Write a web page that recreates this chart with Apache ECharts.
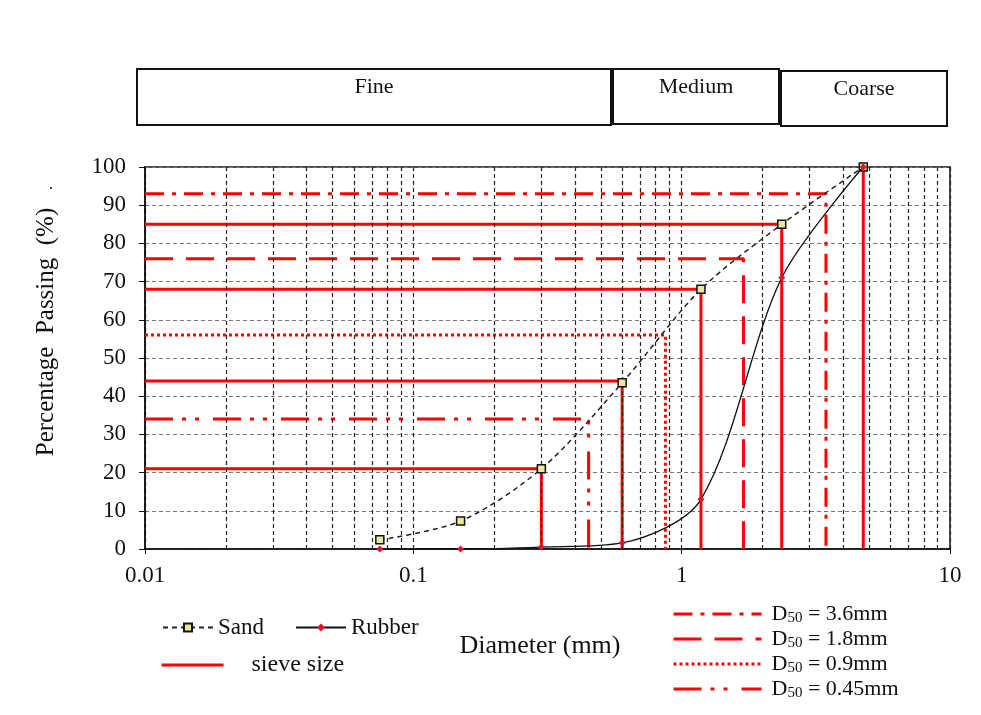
<!DOCTYPE html>
<html>
<head>
<meta charset="utf-8">
<script src="https://cdn.jsdelivr.net/npm/echarts@6/dist/echarts.min.js"></script>
<style>html,body{margin:0;padding:0;background:#fff}#c{width:981px;height:715px}</style>
</head>
<body>
<div id="c"></div>
<script>
// ---- data ----
const sieveSizes = [0.075, 0.15, 0.3, 0.6, 1.18, 2.36, 4.75];
const sandPassing = [2.4, 7.3, 21, 43.5, 68, 85, 100];
const rubberPassing = [0, 0, 0.5, 1.6, 13, 71, 100];
const sieveLineSizes = [0.3, 0.6, 1.18, 2.36, 4.75];
const sieveLineLevels = [21, 44, 68, 85, 101];
const d50Names = ['3.6mm', '1.8mm', '0.9mm', '0.45mm'];
const d50X = [3.45, 1.7, 0.87, 0.45];
const d50Y = [93, 76, 56, 34];
const minorGrid = [0.02,0.03,0.04,0.05,0.06,0.07,0.08,0.09,
                   0.2,0.3,0.4,0.5,0.6,0.7,0.8,0.9,
                   2,3,4,5,6,7,8,9];
const bandNames = ['Fine', 'Medium', 'Coarse'];

const FONT = '"Liberation Serif", "Times New Roman", serif';
const RED = '#ff0000';
const d50Dash = [[19, 8, 4, 8], [28, 13], [3, 3], [28, 9, 4, 9, 4, 14]];

const series = [];
// helper series for the minor vertical gridlines
series.push({
  type: 'line', data: [], silent: true, z: 1,
  markLine: {
    silent: true, symbol: 'none', label: {show: false},
    lineStyle: {color: '#222', type: [4, 3], width: 1.2},
    data: minorGrid.map(v => ({xAxis: v}))
  }
});
// sieve size L lines
sieveLineSizes.forEach((s, i) => {
  series.push({
    name: 'sieve size', type: 'line', symbol: 'none', z: 3,
    lineStyle: {color: RED, width: 3},
    itemStyle: {color: RED},
    data: [[0.01, sieveLineLevels[i]], [s, sieveLineLevels[i]], [s, 0]]
  });
});
// D50 L lines
d50Names.forEach((n, i) => {
  series.push({
    name: 'D50 = ' + n, type: 'line', symbol: 'none', z: 3,
    lineStyle: {color: RED, width: 3, type: d50Dash[i]},
    itemStyle: {color: RED},
    data: [[0.01, d50Y[i]], [d50X[i], d50Y[i]], [d50X[i], 0]]
  });
});
series.push({
  name: 'Sand', type: 'line', z: 5, smooth: 0.3,
  symbol: 'rect', symbolSize: 8,
  lineStyle: {color: '#222', width: 1.5, type: [5, 4]},
  itemStyle: {color: '#e6e89a', borderColor: '#111', borderWidth: 1.5},
  data: sieveSizes.map((s, i) => [s, sandPassing[i]])
});
series.push({
  name: 'Rubber', type: 'line', z: 6, smooth: 0.3,
  symbol: 'diamond', symbolSize: 7,
  lineStyle: {color: '#111', width: 1.3},
  itemStyle: {color: '#e8102a'},
  data: sieveSizes.map((s, i) => [s, rubberPassing[i]])
});

const bandBoxes = [
  {x: 137, y: 69, w: 474, h: 56, ty: 87},
  {x: 613, y: 69, w: 166, h: 55, ty: 87},
  {x: 781, y: 71, w: 166, h: 55, ty: 89}
];
const graphic = [];
bandBoxes.forEach((b, i) => {
  graphic.push({type: 'rect', shape: {x: b.x, y: b.y, width: b.w, height: b.h},
    style: {fill: '#fff', stroke: '#111', lineWidth: 2}});
  graphic.push({type: 'text', x: b.x + b.w / 2, y: b.ty,
    style: {text: bandNames[i], font: '22px ' + FONT, fill: '#111', align: 'center', verticalAlign: 'middle'}});
});
graphic.push({type: 'text', x: 46, y: 332, rotation: Math.PI / 2,
  style: {text: 'Percentage  Passing  (%)', font: '25px ' + FONT, fill: '#111', align: 'center', verticalAlign: 'middle'}});
graphic.push({type: 'text', x: 48, y: 188, rotation: Math.PI / 2,
  style: {text: '.', font: '16px ' + FONT, fill: '#111', align: 'center', verticalAlign: 'middle'}});
graphic.push({type: 'text', x: 540, y: 646,
  style: {text: 'Diameter (mm)', font: '26px ' + FONT, fill: '#111', align: 'center', verticalAlign: 'middle'}});

const chart = echarts.init(document.getElementById('c'), null, {renderer: 'canvas'});
chart.setOption({
  animation: false,
  backgroundColor: '#fff',
  grid: {left: 145, right: 31, top: 167, bottom: 166, show: true, borderColor: '#111', borderWidth: 1.5},
  xAxis: {
    type: 'log', min: 0.01, max: 10, logBase: 10,
    axisLine: {lineStyle: {color: '#111', width: 1.5}},
    axisTick: {show: true, length: 5, lineStyle: {color: '#111'}},
    axisLabel: {color: '#111', fontFamily: FONT, fontSize: 23, margin: 15,
      formatter: v => String(v)},
    splitLine: {show: true, lineStyle: {color: '#222', type: [4, 3], width: 1.2}}
  },
  yAxis: {
    type: 'value', min: 0, max: 100, interval: 10,
    axisLine: {show: true, lineStyle: {color: '#111', width: 1.5}},
    axisTick: {show: true, length: 6, lineStyle: {color: '#111'}},
    axisLabel: {color: '#111', fontFamily: FONT, fontSize: 23, margin: 19},
    splitLine: {show: true, lineStyle: {color: '#777', type: [4, 3], width: 1.2}}
  },
  legend: [
    {data: ['Sand', 'Rubber'], left: 162, top: 616, padding: 0, orient: 'horizontal',
      itemWidth: 50, itemHeight: 10, itemGap: 31,
      textStyle: {fontFamily: FONT, fontSize: 23, color: '#111'}},
    {data: ['sieve size'], left: 160, top: 653, padding: 0, itemWidth: 62, itemHeight: 14,
      itemStyle: {opacity: 0}, lineStyle: {width: 3},
      textStyle: {fontFamily: FONT, fontSize: 24, color: '#111', padding: [4, 0, 0, 23]}},
    {data: d50Names.map(n => 'D50 = ' + n), left: 672, top: 602, padding: 0, orient: 'vertical',
      itemWidth: 88, itemHeight: 14, itemGap: 1,
      itemStyle: {opacity: 0}, lineStyle: {width: 3},
      formatter: name => '{d|D}{s|50}{d|' + name.slice(3) + '}',
      textStyle: {color: '#111', padding: [0, 0, 0, 5], rich: {
        d: {fontFamily: FONT, fontSize: 22, lineHeight: 25, color: '#111'},
        s: {fontFamily: FONT, fontSize: 15, lineHeight: 15, padding: [9, 0, 0, 0], color: '#111'}
      }}}
  ],
  series: series,
  graphic: graphic
});
</script>
</body>
</html>
